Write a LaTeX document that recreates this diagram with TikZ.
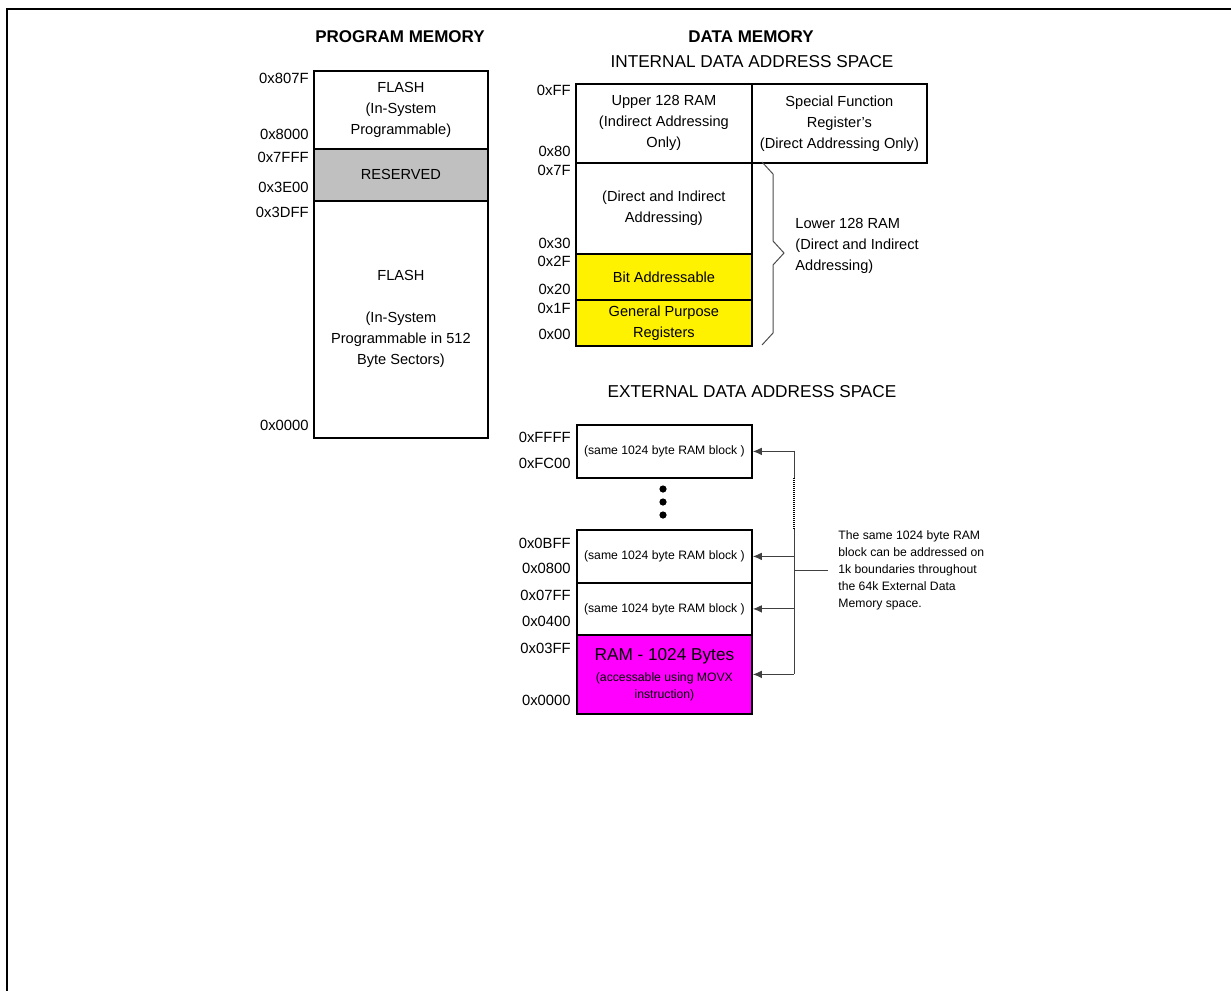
\documentclass[tikz,border=0pt]{standalone}
\usepackage{fontspec}
\setmainfont{Liberation Sans}
\usetikzlibrary{arrows.meta}
\definecolor{resgray}{RGB}{192,192,192}
\definecolor{rammag}{RGB}{255,0,255}

\begin{document}
\begin{tikzpicture}[
  x=0.5pt, y=-0.5pt,
  mbox/.style={draw,line width=0.9pt,anchor=north west,inner sep=0pt,align=center,font=\fontsize{7.3}{10.5}\selectfont},
  addr/.style={anchor=east,inner sep=0pt,font=\fontsize{7.4}{9}\selectfont},
  head/.style={inner sep=0pt,font=\bfseries\fontsize{8.5}{10}\selectfont},
  space/.style={inner sep=0pt,font=\fontsize{8.6}{10}\selectfont},
  small/.style={font=\fontsize{6.1}{8.5}\selectfont},
  link/.style={draw=black!75,line width=0.5pt},
  arr/.style={link,-{Latex[length=4.5pt,width=3.8pt]}}
]
  \useasboundingbox (0,0) rectangle (1231,991);

  % frame
  \draw[line width=1pt] (1231,9) -- (7,9) -- (7,991);

  % program memory
  \node[head] (ptitle) at (400,37) {PROGRAM MEMORY};
  \node[mbox,minimum width=87pt,minimum height=39pt] (pflash) at (313,70) {FLASH\\(In-System\\Programmable)};
  \node[mbox,fill=resgray,minimum width=87pt,minimum height=26pt] (pres) at (313,148) {RESERVED};
  \node[mbox,minimum width=87pt,minimum height=118.5pt] (pflashlo) at (313,200) {FLASH\\ \\(In-System\\Programmable in 512\\Byte Sectors)};

  \node[addr] (p807f) at (309,78) {0x807F};
  \node[addr] (p8000) at (309,134) {0x8000};
  \node[addr] (p7fff) at (309,157) {0x7FFF};
  \node[addr] (p3e00) at (309,187) {0x3E00};
  \node[addr] (p3dff) at (309,212) {0x3DFF};
  \node[addr] (p0000) at (309,425) {0x0000};

  % internal data memory
  \node[head] (dtitle) at (751,37) {DATA MEMORY};
  \node[space] (itl) at (752,62) {INTERNAL DATA ADDRESS SPACE};
  \node[mbox,minimum width=88pt,minimum height=39.5pt] (upram) at (575,83) {Upper 128 RAM\\(Indirect Addressing\\Only)};
  \node[mbox,minimum width=87.5pt,minimum height=39.5pt] (sfr) at (751,83) {Special Function\\Register's\\(Direct Addressing Only)};
  \node[mbox,minimum width=88pt,minimum height=45.5pt] (lowram) at (575,162) {(Direct and Indirect\\Addressing)};
  \node[mbox,fill=yellow,minimum width=88pt,minimum height=23pt] (bitadr) at (575,253) {Bit Addressable};
  \node[mbox,fill=yellow,minimum width=88pt,minimum height=23pt] (gpr) at (575,299) {General Purpose\\Registers};

  \node[addr] (iff) at (571,90) {0xFF};
  \node[addr] (i80) at (571,151) {0x80};
  \node[addr] (i7f) at (571,170) {0x7F};
  \node[addr] (i30) at (571,243) {0x30};
  \node[addr] (i2f) at (571,261) {0x2F};
  \node[addr] (i20) at (571,289) {0x20};
  \node[addr] (i1f) at (571,308) {0x1F};
  \node[addr] (i00) at (571,334) {0x00};

  % lower 128 brace
  \draw[draw=black!70,line width=0.5pt] (762,162) -- (773,174) -- (773,241) -- (784,253)
    -- (773,265) -- (773,333) -- (762,345);
  \node[anchor=west,inner sep=0pt,align=left,font=\fontsize{7.3}{10.5}\selectfont] (lowtxt) at (795,246)
    {Lower 128 RAM\\(Direct and Indirect\\Addressing)};

  % external data memory
  \node[space] (etl) at (752,392) {EXTERNAL DATA ADDRESS SPACE};
  \node[mbox,small,minimum width=87.5pt,minimum height=26.5pt] (extA) at (576,424) {(same 1024 byte RAM block )};
  \node[mbox,small,minimum width=87.5pt,minimum height=26.5pt] (extB) at (576,529) {(same 1024 byte RAM block )};
  \node[mbox,small,minimum width=87.5pt,minimum height=26pt] (extC) at (576,582) {(same 1024 byte RAM block )};
  \node[mbox,small,fill=rammag,minimum width=87.5pt,minimum height=39.5pt] (ram) at (576,634)
    {{\fontsize{8.6}{10.5}\selectfont RAM - 1024 Bytes}\\[2pt](accessable using MOVX\\instruction)};

  \foreach \y in {489,502,515}
    \fill (663,\y) circle (1.8pt);

  \node[addr] (effff) at (571,437) {0xFFFF};
  \node[addr] (efc00) at (571,463) {0xFC00};
  \node[addr] (e0bff) at (571,543) {0x0BFF};
  \node[addr] (e0800) at (571,568) {0x0800};
  \node[addr] (e07ff) at (571,595) {0x07FF};
  \node[addr] (e0400) at (571,621) {0x0400};
  \node[addr] (e03ff) at (571,648) {0x03FF};
  \node[addr] (e0000) at (571,700) {0x0000};

  % note and links
  \node[anchor=west,inner ysep=0pt,inner xsep=5pt,align=left,small] (note) at (828,570)
    {The same 1024 byte RAM\\block can be addressed on\\1k boundaries throughout\\the 64k External Data\\Memory space.};

  \coordinate (jtop) at (794,450.5);
  \coordinate (jdota) at (794,478);
  \coordinate (jdotb) at (794,529);
  \coordinate (jbot) at (794,673.5);
  \draw[link] (jtop) -- (jdota);
  \draw[draw=black,line width=1pt,dash pattern=on 0.5pt off 0.5pt] (jdota) -- (jdotb);
  \draw[link] (jdotb) -- (jbot);
  \foreach \b in {extA,extB,extC,ram}
    \draw[arr] (jtop |- \b.east) -- (\b.east);
  \draw[link] (jtop |- note.west) -- (note.west);
\end{tikzpicture}
\end{document}
